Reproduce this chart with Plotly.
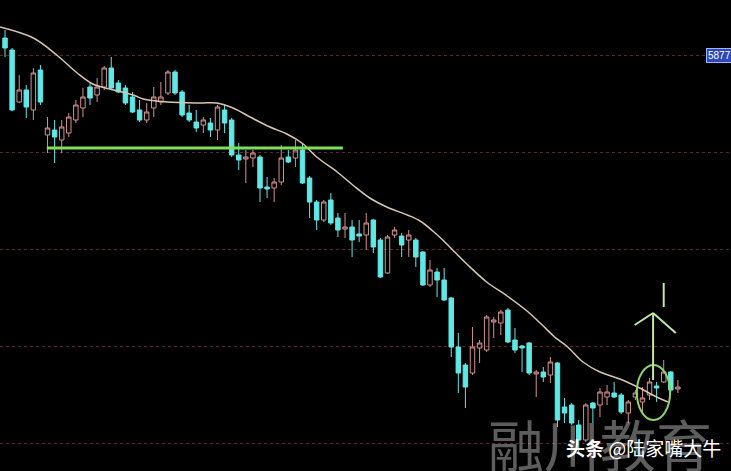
import plotly.graph_objects as go

# candle index (trading day)
idx = list(range(96))
open_ = [5894, 5882, 5830, 5842, 5822, 5862, 5797, 5802, 5792, 5799,
         5812, 5824, 5845, 5837, 5845, 5864, 5849, 5844, 5835, 5822,
         5812, 5824, 5830, 5839, 5860, 5840, 5819, 5810, 5807, 5809,
         5802, 5822, 5812, 5777, 5773, 5774, 5775, 5745, 5744, 5750,
         5775, 5774, 5782, 5754, 5730, 5712, 5732, 5714, 5703, 5705,
         5698, 5697, 5712, 5692, 5659, 5697, 5696, 5692, 5692, 5680,
         5647, 5660, 5652, 5634, 5585, 5567, 5559, 5584, 5582, 5610,
         5609, 5622, 5592, 5586, 5589, 5558, 5560, 5557, 5569, 5525,
         5527, 5507, 5492, 5529, 5527, 5535, 5539, 5537, 5519, 5535,
         5530, 5537, 5546, 5550, 5560, 5543]
high = [5902, 5884, 5857, 5847, 5864, 5867, 5815, 5812, 5812, 5819,
        5832, 5844, 5850, 5854, 5866, 5875, 5852, 5847, 5840, 5832,
        5829, 5845, 5850, 5862, 5862, 5842, 5827, 5822, 5815, 5814,
        5827, 5827, 5814, 5789, 5782, 5782, 5777, 5755, 5754, 5787,
        5782, 5792, 5789, 5756, 5732, 5732, 5739, 5719, 5719, 5712,
        5712, 5719, 5713, 5694, 5697, 5705, 5699, 5702, 5694, 5681,
        5672, 5664, 5664, 5635, 5599, 5569, 5605, 5592, 5617, 5615,
        5622, 5624, 5604, 5587, 5590, 5562, 5565, 5575, 5570, 5534,
        5529, 5512, 5529, 5530, 5544, 5547, 5550, 5539, 5532, 5542,
        5545, 5554, 5550, 5572, 5561, 5552]
low = [5875, 5821, 5829, 5814, 5812, 5827, 5779, 5769, 5779, 5795,
       5809, 5815, 5827, 5830, 5842, 5842, 5839, 5827, 5819, 5810,
       5809, 5815, 5827, 5837, 5837, 5815, 5810, 5800, 5799, 5795,
       5792, 5799, 5775, 5762, 5749, 5765, 5730, 5734, 5730, 5747,
       5769, 5765, 5748, 5714, 5702, 5710, 5707, 5695, 5694, 5675,
       5690, 5682, 5679, 5654, 5658, 5694, 5675, 5675, 5665, 5646,
       5645, 5635, 5631, 5575, 5539, 5524, 5557, 5569, 5580, 5594,
       5597, 5589, 5579, 5560, 5557, 5535, 5550, 5549, 5505, 5509,
       5507, 5479, 5490, 5509, 5515, 5527, 5534, 5518, 5509, 5532,
       5520, 5532, 5530, 5549, 5540, 5539]
close = [5884, 5822, 5842, 5825, 5859, 5830, 5804, 5795, 5805, 5815,
         5827, 5835, 5834, 5845, 5864, 5844, 5840, 5829, 5820, 5812,
         5820, 5835, 5835, 5860, 5839, 5817, 5812, 5804, 5812, 5802,
         5825, 5809, 5777, 5772, 5775, 5779, 5744, 5743, 5750, 5774,
         5770, 5782, 5749, 5730, 5712, 5730, 5709, 5702, 5705, 5692,
         5696, 5709, 5685, 5655, 5695, 5702, 5687, 5697, 5675, 5647,
         5662, 5652, 5632, 5585, 5559, 5545, 5585, 5589, 5615, 5612,
         5620, 5590, 5582, 5584, 5559, 5560, 5555, 5570, 5512, 5519,
         5509, 5492, 5527, 5524, 5540, 5540, 5535, 5520, 5530, 5539,
         5534, 5550, 5544, 5560, 5542, 5545]

# moving average line
ma_idx = [-0.7, 4.0, 7.3, 10.2, 12.4, 14.8, 18.1, 19.5, 22.9, 27.5,
          29.9, 32.2, 34.6, 37.4, 39.8, 42.1, 44.0, 46.9, 49.1, 51.5,
          53.9, 56.8, 58.6, 60.4, 61.8, 63.2, 65.2, 68.0, 70.9, 73.7,
          76.0, 77.6, 79.3, 81.6, 84.0, 86.8, 89.6, 92.0, 93.6]
ma_val = [5905, 5894, 5877, 5859, 5848, 5843, 5837, 5833, 5830, 5829,
          5829, 5824, 5815, 5805, 5798, 5788, 5775, 5760, 5747, 5734,
          5725, 5717, 5711, 5701, 5692, 5682, 5668, 5650, 5636, 5621,
          5606, 5595, 5586, 5570, 5560, 5553, 5544, 5535, 5530]

grid_levels = [5877, 5780, 5683, 5586, 5489]
support_level = 5784
price_label = "5877"

fig = go.Figure()
fig.add_trace(go.Candlestick(
    x=idx, open=open_, high=high, low=low, close=close,
    increasing=dict(line=dict(color="#d49090", width=1), fillcolor="rgba(0,0,0,0)"),
    decreasing=dict(line=dict(color="#5fe8e6", width=1), fillcolor="#5fe8e6"),
    whiskerwidth=0, showlegend=False, hoverinfo="skip",
))
fig.add_trace(go.Scatter(
    x=ma_idx, y=ma_val, mode="lines", line=dict(color="#d8c6b0", width=1.5, shape="spline"),
    showlegend=False, hoverinfo="skip",
))

# support line
fig.add_shape(type="line", x0=5.9, x1=47.7, y0=support_level, y1=support_level,
              line=dict(color="#7ee05a", width=3), xref="x", yref="y")
# circle
fig.add_shape(type="circle", x0=89.2, x1=93.9, y0=5512, y1=5567,
              line=dict(color="#8fd468", width=2), xref="x", yref="y")
# arrow
arrow_col = "#bfe8a8"
fig.add_shape(type="line", x0=91.5, x1=91.5, y0=5552, y1=5619, line=dict(color=arrow_col, width=2))
fig.add_shape(type="line", x0=88.9, x1=91.5, y0=5607, y1=5619, line=dict(color=arrow_col, width=2))
fig.add_shape(type="line", x0=91.5, x1=94.7, y0=5619, y1=5599, line=dict(color=arrow_col, width=2))
fig.add_shape(type="line", x0=93.0, x1=93.0, y0=5625, y1=5649, line=dict(color=arrow_col, width=2))

fig.add_annotation(xref="paper", x=706/731, yref="y", y=5877, xanchor="left", yanchor="middle",
                   text=price_label, showarrow=False, bgcolor="#2a48b8", bordercolor="#9fb2ff",
                   borderwidth=1, borderpad=1, font=dict(color="white", size=10, family="Arial"))
fig.add_annotation(xref="paper", yref="paper", x=600/731, y=-0.03, xanchor="center", yanchor="bottom",
                   text="融川教育", showarrow=False,
                   font=dict(color="rgba(185,185,185,0.5)", size=56, family="Noto Sans CJK SC"))
fig.add_annotation(xref="paper", yref="paper", x=723/731, y=1-447/471, xanchor="right", yanchor="middle",
                   text="<b>头条</b> @陆家嘴大牛", showarrow=False,
                   font=dict(color="white", size=19, family="Noto Sans CJK SC"))

fig.update_layout(
    width=731, height=471, margin=dict(l=0, r=0, t=0, b=0),
    paper_bgcolor="black", plot_bgcolor="black", boxgap=0.1,
    xaxis=dict(range=[-0.71, 102.5], visible=False, rangeslider=dict(visible=False)),
    yaxis=dict(range=[5461, 5932], tickvals=grid_levels, showticklabels=False,
               showgrid=True, gridcolor="rgba(130,60,60,0.7)", griddash="dot", gridwidth=1,
               zeroline=False, showline=False),
)
fig.write_html("out.html", config={"displayModeBar": False},
               post_script="document.body.style.margin='0';document.body.style.background='black';")
